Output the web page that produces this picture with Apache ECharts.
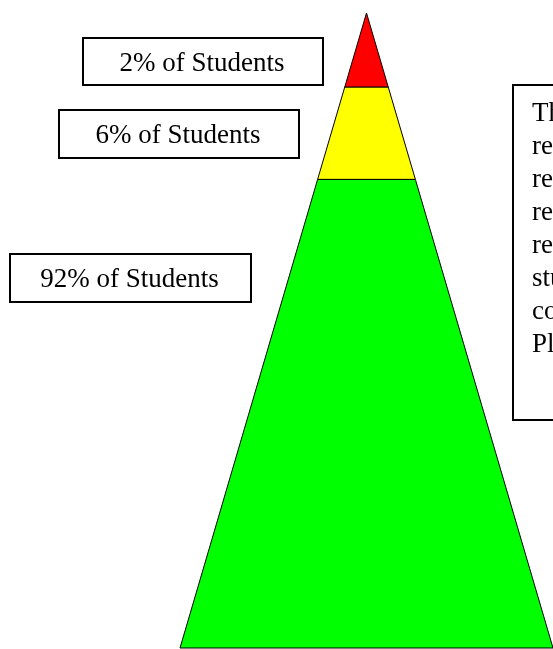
<!DOCTYPE html>
<html><head><meta charset="utf-8">
<script src="https://cdn.jsdelivr.net/npm/echarts@6/dist/echarts.min.js"></script>
<style>html,body{margin:0;padding:0;background:#fff;overflow:hidden}#c{width:553px;height:649px}</style>
</head><body><div id="c"></div>
<script>
// Tiers listed from the base of the pyramid to the apex
const tierLabels = ['92% of Students', '6% of Students', '2% of Students'];
const tierColors = ['#00ff00', '#ffff00', '#ff0000'];
const tierBottom = [0, 73.8, 88.35];   // % of pyramid height
const tierTop = [73.8, 88.35, 100];    // % of pyramid height
const noteLines = ['The pyramid', 'represents', 'relative', 'resource', 'requirements', 'students', 'commonly', 'Placement'];

const FONT = '"Liberation Serif", "Times New Roman", serif';
const labelBoxes = [
  { x: 9, y: 253, w: 241, h: 48 },
  { x: 58, y: 109, w: 240, h: 48 },
  { x: 82, y: 37, w: 240, h: 47 }
];

const chart = echarts.init(document.getElementById('c'), null, { renderer: 'canvas' });

const graphics = [];
tierLabels.forEach((t, i) => {
  const b = labelBoxes[i];
  graphics.push({
    type: 'rect', left: b.x, top: b.y, silent: true,
    shape: { width: b.w, height: b.h },
    style: { fill: '#fff', stroke: '#000', lineWidth: 2 }
  });
  graphics.push({
    type: 'text', x: b.x + b.w / 2, y: b.y + b.h / 2 + 3, silent: true,
    style: { text: t, font: '27px ' + FONT, fill: '#000', textAlign: 'center', textVerticalAlign: 'middle' }
  });
});
graphics.push({
  type: 'rect', left: 512, top: 84, silent: true,
  shape: { width: 300, height: 335 },
  style: { fill: '#fff', stroke: '#000', lineWidth: 2 }
});
graphics.push({
  type: 'text', x: 532, y: 97, silent: true,
  style: { text: noteLines.join('\n'), font: '27px ' + FONT, lineHeight: 33, fill: '#000', textAlign: 'left', textVerticalAlign: 'top' }
});

chart.setOption({
  animation: false,
  grid: { left: 180, top: 13, width: 373, height: 635 },
  xAxis: { type: 'value', min: -100, max: 100, show: false },
  yAxis: { type: 'value', min: 0, max: 100, show: false },
  series: [{
    type: 'custom',
    coordinateSystem: 'cartesian2d',
    data: tierBottom.map((b, i) => [b, tierTop[i]]),
    renderItem(params, api) {
      const b = api.value(0), t = api.value(1);
      const hw = h => 100 * (1 - h / 100);
      const pts = [[-hw(b), b], [hw(b), b], [hw(t), t], [-hw(t), t]].map(p => api.coord(p));
      return {
        type: 'polygon',
        shape: { points: pts },
        style: { fill: tierColors[params.dataIndex], stroke: '#000', lineWidth: 1 }
      };
    }
  }],
  graphic: graphics
});
</script></body></html>
